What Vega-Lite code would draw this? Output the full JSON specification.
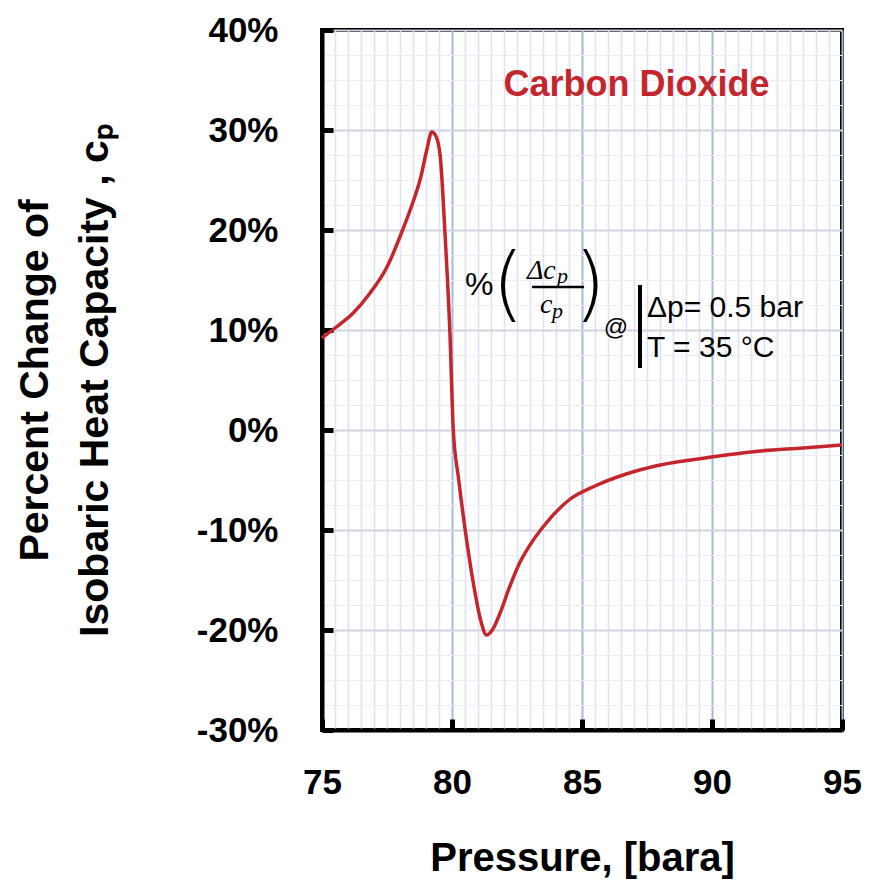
{
  "$schema": "https://vega.github.io/schema/vega-lite/v6.json",
  "width": 520,
  "height": 700,
  "autosize": {"type": "none"},
  "padding": {"left": 322, "top": 30, "right": 31, "bottom": 156},
  "background": "white",
  "config": {
    "view": {"stroke": "black", "strokeWidth": 4},
    "font": "Liberation Sans"
  },
  "resolve": {"axis": {"x": "independent", "y": "independent"}},
  "encoding": {
    "x": {"field": "p", "type": "quantitative", "scale": {"domain": [75, 95], "nice": false, "zero": false}, "axis": null},
    "y": {"field": "v", "type": "quantitative", "scale": {"domain": [-30, 40], "nice": false, "zero": false}, "axis": null}
  },
  "layer": [
    {
      "data": {"values": [{"p": 87.1, "v": 34.5, "t": "Carbon Dioxide"}]},
      "mark": {"type": "text", "font": "Liberation Sans", "fontSize": 36, "fontWeight": "bold", "color": "#c4262e", "align": "center", "baseline": "middle"},
      "encoding": {
        "text": {"field": "t"},
        "x": {"field": "p", "type": "quantitative", "scale": {"domain": [75, 95], "nice": false, "zero": false},
          "axis": {"orient": "bottom", "title": null, "labels": false, "ticks": false, "domain": false, "grid": true,
            "gridColor": "#dfe2f3", "gridWidth": 1.6,
            "values": [75.5,76,76.5,77,77.5,78,78.5,79,79.5,80.5,81,81.5,82,82.5,83,83.5,84,84.5,85.5,86,86.5,87,87.5,88,88.5,89,89.5,90.5,91,91.5,92,92.5,93,93.5,94,94.5]}},
        "y": {"field": "v", "type": "quantitative", "scale": {"domain": [-30, 40], "nice": false, "zero": false},
          "axis": {"orient": "left", "title": null, "labels": false, "ticks": false, "domain": false, "grid": true,
            "gridColor": "#ececf5", "gridWidth": 1.2,
            "values": [-27.5,-25,-22.5,-17.5,-15,-12.5,-7.5,-5,-2.5,2.5,5,7.5,12.5,15,17.5,22.5,25,27.5,32.5,35,37.5]}}
      }
    },
    {
      "data": {"values": [
        {"p": 75.0, "v": 9.2}, {"p": 75.5, "v": 10.2}, {"p": 76.2, "v": 11.7}, {"p": 76.85, "v": 13.7},
        {"p": 77.5, "v": 16.3}, {"p": 78.1, "v": 20.0}, {"p": 78.5, "v": 22.8}, {"p": 78.8, "v": 25.3},
        {"p": 79.03, "v": 28.0}, {"p": 79.22, "v": 29.8}, {"p": 79.38, "v": 29.4}, {"p": 79.55, "v": 27.3},
        {"p": 79.73, "v": 19.7}, {"p": 79.92, "v": 9.7}, {"p": 80.05, "v": 0.0}, {"p": 80.25, "v": -4.8},
        {"p": 80.44, "v": -8.7}, {"p": 80.82, "v": -15.3}, {"p": 81.1, "v": -19.0}, {"p": 81.33, "v": -20.5},
        {"p": 81.55, "v": -20.0}, {"p": 81.85, "v": -18.3}, {"p": 82.2, "v": -15.8}, {"p": 82.6, "v": -13.3},
        {"p": 83.0, "v": -11.5}, {"p": 83.5, "v": -9.7}, {"p": 84.5, "v": -7.0}, {"p": 85.5, "v": -5.6},
        {"p": 86.7, "v": -4.4}, {"p": 88.0, "v": -3.5}, {"p": 90.0, "v": -2.7}, {"p": 91.85, "v": -2.1},
        {"p": 93.5, "v": -1.8}, {"p": 95.0, "v": -1.5}
      ]},
      "mark": {"type": "line", "color": "#c4262e", "strokeWidth": 3.5, "interpolate": "monotone"},
      "encoding": {
        "x": {"field": "p", "type": "quantitative", "scale": {"domain": [75, 95], "nice": false, "zero": false},
          "axis": {
            "orient": "bottom",
            "title": "Pressure, [bara]",
            "titleFont": "Liberation Sans", "titleFontSize": 40, "titleFontWeight": "bold", "titleColor": "black",
            "titlePadding": 38,
            "values": [75, 80, 85, 90, 95],
            "labelFont": "Liberation Sans", "labelFontSize": 35, "labelFontWeight": "bold", "labelColor": "black",
            "labelPadding": 46, "labelFlush": false, "labelOverlap": false,
            "domainColor": "black", "domainWidth": 4,
            "ticks": true, "tickSize": -11, "tickWidth": 5, "tickColor": "black", "tickOpacity": 1,
            "grid": true, "gridColor": "#a3b9de", "gridWidth": 2
          }},
        "y": {"field": "v", "type": "quantitative", "scale": {"domain": [-30, 40], "nice": false, "zero": false},
          "axis": {
            "orient": "left",
            "title": ["Percent Change of", "Isobaric Heat Capacity , cₚ"],
            "titleFont": "Liberation Sans", "titleFontSize": 41, "titleFontWeight": "bold", "titleColor": "black",
            "titleLineHeight": 60,
            "titlePadding": 80,
            "values": [-30, -20, -10, 0, 10, 20, 30, 40],
            "labelExpr": "datum.value + '%'",
            "labelFont": "Liberation Sans", "labelFontSize": 35, "labelFontWeight": "bold", "labelColor": "black",
            "labelPadding": 55, "labelFlush": false, "labelOverlap": false,
            "domainColor": "black", "domainWidth": 4,
            "ticks": true, "tickSize": -11, "tickWidth": 5, "tickColor": "black", "tickOpacity": 1,
            "grid": true, "gridColor": "#d2d3df", "gridWidth": 2
          }}
      }
    },
    {
      "data": {"values": [{"p": 81.05, "v": 14.5, "t": "%"}]},
      "mark": {"type": "text", "font": "Liberation Sans", "fontSize": 32, "color": "black", "align": "center", "baseline": "middle"},
      "encoding": {"text": {"field": "t"}}
    },
    {
      "data": {"values": [{"p": 82.15, "v": 14.4, "t": "("}, {"p": 85.31, "v": 14.4, "t": ")"}]},
      "mark": {"type": "text", "font": "DejaVu Sans", "fontWeight": 200, "fontSize": 82, "color": "black", "align": "center", "baseline": "middle"},
      "encoding": {"text": {"field": "t"}}
    },
    {
      "data": {"values": [{"p": 82.88, "v": 15.1, "t": "Δc"}, {"p": 83.38, "v": 11.7, "t": "c"}]},
      "mark": {"type": "text", "font": "Liberation Serif", "fontStyle": "italic", "fontSize": 28, "color": "black", "align": "left", "baseline": "alphabetic"},
      "encoding": {"text": {"field": "t"}}
    },
    {
      "data": {"values": [{"p": 84.04, "v": 14.7, "t": "p"}, {"p": 83.85, "v": 11.2, "t": "p"}]},
      "mark": {"type": "text", "font": "Liberation Serif", "fontStyle": "italic", "fontSize": 22, "color": "black", "align": "left", "baseline": "alphabetic"},
      "encoding": {"text": {"field": "t"}}
    },
    {
      "data": {"values": [{"p": 83.08, "p2": 85.08, "v": 14.3}]},
      "mark": {"type": "rule", "color": "black", "strokeWidth": 2.5},
      "encoding": {"x2": {"field": "p2"}}
    },
    {
      "data": {"values": [{"p": 86.31, "v": 10.2, "t": "@"}]},
      "mark": {"type": "text", "font": "Liberation Sans", "fontSize": 24, "color": "black", "align": "center", "baseline": "middle"},
      "encoding": {"text": {"field": "t"}}
    },
    {
      "data": {"values": [{"p": 87.23, "v": 14.5, "v2": 6.2}]},
      "mark": {"type": "rule", "color": "black", "strokeWidth": 4},
      "encoding": {"y2": {"field": "v2"}}
    },
    {
      "data": {"values": [{"p": 87.5, "v": 12.2, "t": "Δp= 0.5 bar"}, {"p": 87.5, "v": 8.2, "t": "T = 35 °C"}]},
      "mark": {"type": "text", "font": "Liberation Sans", "fontSize": 30, "color": "black", "align": "left", "baseline": "middle"},
      "encoding": {"text": {"field": "t"}}
    }
  ]
}
